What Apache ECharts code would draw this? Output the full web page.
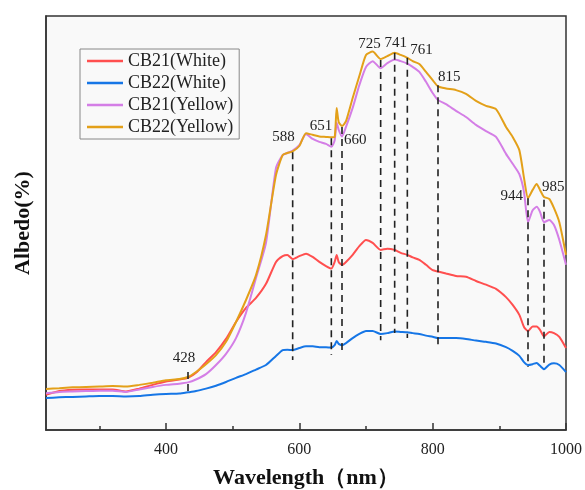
<!DOCTYPE html>
<html>
<head>
<meta charset="utf-8">
<script src="https://cdn.jsdelivr.net/npm/echarts@6/dist/echarts.min.js"></script>
<style>
  html, body { margin: 0; padding: 0; background: #fff; }
  #main { width: 585px; height: 490px; }
</style>
</head>
<body>
<div id="main"></div>
<script>
// wavelength (nm) sample points
const wavelength = [220, 240, 260, 280, 300, 320, 340, 360, 380, 400, 420, 433, 445, 460, 475, 490, 505, 520, 535, 550,
  565, 575, 582, 590, 600, 610, 620, 630, 640, 648, 653, 656, 659, 664, 670, 680, 690, 700, 710, 722,
  732, 743, 752, 762, 770, 780, 790, 800, 808, 820, 835, 850, 865, 880, 895, 910, 920, 930, 937, 943,
  950, 956, 961, 967, 975, 982, 990, 1000];

// albedo, arbitrary % scale (axis has no labels in the original)
const cb21White = [8.5, 9.4, 9.7, 9.8, 9.8, 9.8, 9.3, 10.0, 10.9, 11.7, 12.2, 12.6, 13.8, 16.4, 18.8, 22.0, 26.1, 29.5, 31.9, 35.3,
  40.6, 42.0, 42.3, 41.3, 42.0, 42.6, 41.8, 40.6, 39.6, 39.0, 40.6, 42.3, 40.6, 39.9, 40.6, 42.3, 44.4, 45.9, 45.2, 43.5,
  43.8, 43.5, 42.8, 42.3, 41.7, 41.1, 39.9, 38.6, 38.3, 37.8, 37.2, 37.0, 36.0, 35.1, 34.1, 32.1, 30.2, 27.8, 24.9, 23.9,
  25.0, 25.0, 24.2, 22.6, 23.7, 23.4, 22.5, 19.8];
const cb22White = [7.7, 7.9, 8.0, 8.1, 8.2, 8.2, 8.1, 8.2, 8.5, 8.7, 8.8, 9.1, 9.4, 10.0, 10.7, 11.6, 12.6, 13.5, 14.6, 15.7,
  17.9, 19.3, 19.4, 19.3, 19.8, 20.2, 20.2, 20.0, 20.0, 19.9, 20.5, 21.5, 20.8, 20.5, 21.0, 22.2, 23.2, 23.9, 23.9, 23.2,
  23.4, 23.8, 23.7, 23.6, 23.4, 23.2, 22.8, 22.5, 22.2, 22.2, 22.2, 22.0, 21.6, 21.3, 20.9, 20.0, 19.1, 17.9, 16.4, 15.7,
  15.9, 16.2, 15.5, 14.7, 15.8, 16.1, 15.7, 14.0];
const cb21Yellow = [8.9, 9.2, 9.3, 9.4, 9.5, 9.5, 9.2, 9.8, 10.4, 10.9, 11.2, 11.5, 12.2, 13.5, 15.7, 18.4, 22.2, 28.3, 36.7, 45.2,
  63.3, 66.4, 66.9, 67.5, 68.8, 71.5, 70.3, 69.6, 69.1, 68.4, 70.0, 74.2, 72.5, 70.9, 73.2, 77.8, 83.3, 87.7, 89.1, 87.4,
  88.6, 89.5, 89.1, 88.5, 87.7, 86.5, 84.1, 81.4, 79.7, 78.7, 77.1, 75.6, 73.7, 72.2, 70.8, 66.7, 64.3, 61.8, 57.5, 50.2,
  53.1, 53.9, 52.7, 50.2, 50.7, 49.5, 45.9, 39.9];
const cb22Yellow = [9.9, 10.1, 10.3, 10.4, 10.5, 10.6, 10.5, 10.9, 11.4, 12.0, 12.3, 12.8, 14.0, 15.9, 18.1, 21.3, 26.1, 31.4, 37.4, 47.1,
  61.6, 66.4, 66.9, 67.3, 68.6, 71.7, 71.3, 70.9, 70.8, 70.7, 70.8, 77.8, 74.4, 73.4, 74.6, 80.2, 85.5, 90.6, 91.4, 89.6,
  90.3, 91.1, 90.6, 89.9, 89.1, 88.4, 86.5, 84.5, 83.0, 82.5, 82.1, 81.2, 79.5, 78.3, 77.5, 73.2, 70.8, 67.6, 60.9, 56.0,
  58.0, 59.4, 58.0, 56.3, 55.8, 53.6, 50.2, 42.3];

// dashed marker lines
const peakPos = [433, 590, 648, 664, 722, 743, 762, 808, 943, 967];
const peakLabels = ['428', '588', '651', '660', '725', '741', '761', '815', '944', '985'];
const peakTop = [14.0, 67.1, 70.5, 73.2, 89.4, 91.1, 89.9, 83.3, 56.0, 55.6];
const peakBottom = [8.5, 16.9, 18.1, 18.1, 21.7, 23.4, 22.2, 20.0, 15.2, 15.2];

const xTicks = [400, 600, 800, 1000];
const xMinorTicks = [300, 500, 700, 900];

// where each marker label sits relative to the top of its line
const labelPlace = [
  { align: 'center', va: 'bottom', dx: -4, dy: -6 },
  { align: 'right', va: 'bottom', dx: 2, dy: -8 },
  { align: 'right', va: 'bottom', dx: 1, dy: -5 },
  { align: 'left', va: 'middle', dx: 2, dy: 13 },
  { align: 'right', va: 'bottom', dx: 0, dy: -8 },
  { align: 'center', va: 'bottom', dx: 1, dy: -2 },
  { align: 'left', va: 'bottom', dx: 3, dy: 0 },
  { align: 'left', va: 'bottom', dx: 0, dy: -1 },
  { align: 'right', va: 'middle', dx: -5, dy: -2 },
  { align: 'left', va: 'bottom', dx: -2, dy: -5 }
];

const serif = '"Liberation Serif", "Times New Roman", serif';

function pairs(vals) {
  return wavelength.map((w, i) => [w, vals[i]]);
}

const chart = echarts.init(document.getElementById('main'), null, { renderer: 'canvas' });

const names = ['CB21(White)', 'CB22(White)', 'CB21(Yellow)', 'CB22(Yellow)'];
const colors = ['#ff4f4f', '#1676e6', '#d47ee6', '#e3a019'];
const values = [cb21White, cb22White, cb21Yellow, cb22Yellow];

const lineSeries = names.map((n, k) => ({
  name: n,
  type: 'line',
  data: pairs(values[k]),
  symbol: 'none',
  smooth: 0.2,
  color: colors[k],
  lineStyle: { width: 2, color: colors[k] },
  z: 3 + k
}));

const option = {
  animation: false,
  backgroundColor: '#fff',
  grid: {
    left: 46, right: 19, top: 16, bottom: 60,
    outerBoundsMode: 'none',
    show: true,
    backgroundColor: '#f9f9f9',
    borderColor: '#333',
    borderWidth: 1.5
  },
  legend: {
    orient: 'vertical',
    left: 80,
    top: 49,
    icon: 'rect',
    itemWidth: 36,
    itemHeight: 2.5,
    itemGap: 4,
    padding: [3, 6, 3, 7],
    borderColor: '#888',
    borderWidth: 1,
    textStyle: { fontFamily: serif, fontSize: 18, color: '#222', lineHeight: 18 },
    data: names
  },
  xAxis: [
    {
      type: 'value',
      min: 220,
      max: 1000,
      name: 'Wavelength\uFF08nm\uFF09',
      nameLocation: 'middle',
      nameGap: 37,
      nameTextStyle: { fontFamily: serif, fontSize: 22, fontWeight: 'bold', color: '#111' },
      axisLine: { show: true, lineStyle: { color: '#333', width: 1.5 } },
      axisTick: { show: true, inside: true, length: 7, customValues: xTicks, lineStyle: { color: '#333', width: 1.5 } },
      axisLabel: {
        customValues: xTicks,
        formatter: function (v) { return String(v); },
        fontFamily: serif, fontSize: 16, color: '#222', margin: 12
      },
      splitLine: { show: false }
    },
    {
      type: 'value',
      min: 220,
      max: 1000,
      position: 'bottom',
      axisLine: { show: false },
      axisTick: { show: true, inside: true, length: 4, customValues: xMinorTicks, lineStyle: { color: '#333', width: 1.5 } },
      axisLabel: { show: false },
      splitLine: { show: false }
    }
  ],
  yAxis: {
    type: 'value',
    min: 0,
    max: 100,
    name: 'Albedo(%)',
    nameLocation: 'middle',
    nameGap: 12,
    nameTextStyle: { fontFamily: serif, fontSize: 22, fontWeight: 'bold', color: '#111' },
    axisLine: { show: true, lineStyle: { color: '#333', width: 1.5 } },
    axisTick: { show: false },
    axisLabel: { show: false },
    splitLine: { show: false }
  },
  series: lineSeries.concat([{
    type: 'custom',
    name: 'markers',
    data: peakPos.map((p, i) => [p, peakTop[i], peakBottom[i]]),
    encode: { x: 0, y: [1, 2] },
    z: 10,
    silent: true,
    renderItem: function (params, api) {
      const i = params.dataIndex;
      const top = api.coord([api.value(0), api.value(1)]);
      const bot = api.coord([api.value(0), api.value(2)]);
      const p = labelPlace[i];
      return {
        type: 'group',
        children: [
          {
            type: 'line',
            shape: { x1: top[0], y1: top[1], x2: bot[0], y2: bot[1] },
            style: { stroke: '#222', lineWidth: 1.6, lineDash: [7, 5] }
          },
          {
            type: 'text',
            x: top[0] + p.dx,
            y: top[1] + p.dy,
            style: {
              text: peakLabels[i],
              fill: '#222',
              font: '15px ' + serif,
              align: p.align,
              verticalAlign: p.va
            }
          }
        ]
      };
    }
  }])
};

chart.setOption(option);
</script>
</body>
</html>
